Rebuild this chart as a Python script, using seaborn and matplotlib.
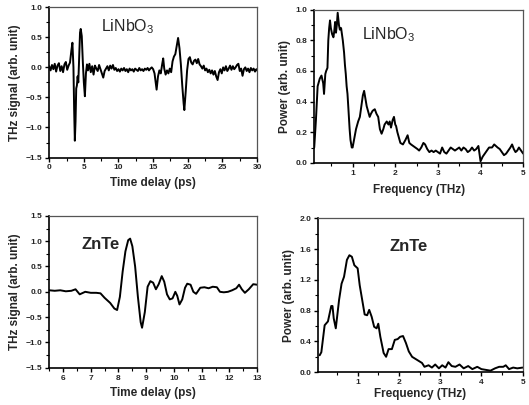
import numpy as np
import pandas as pd
import seaborn as sns
import matplotlib
matplotlib.use("Agg")
import matplotlib.pyplot as plt
from matplotlib.ticker import MultipleLocator

# ---------------- data ----------------
# LiNbO3 time-domain THz signal
lin_t = [0.0, 0.2, 0.4, 0.6, 0.8, 1.0, 1.2, 1.4, 1.6, 1.8, 2.0, 2.2, 2.4, 2.6, 2.8, 3.0,
         3.2, 3.35, 3.5, 3.6, 3.7, 3.8, 3.9, 4.0, 4.1, 4.2, 4.3, 4.45, 4.55, 4.7, 4.85,
         5.0, 5.15, 5.3, 5.45, 5.6, 5.8, 6.0, 6.2, 6.4, 6.6, 6.8, 7.0, 7.2, 7.4, 7.6, 7.8,
         8.0, 8.2, 8.4, 8.6, 8.8, 9.0, 9.2, 9.4, 9.6, 9.8, 10.0, 10.2, 10.4, 10.6, 10.8,
         11.0, 11.2, 11.4, 11.6, 11.8, 12.0, 12.2, 12.4, 12.6, 12.8, 13.0, 13.2, 13.4,
         13.6, 13.8, 14.0, 14.2, 14.4, 14.6, 14.8, 15.0, 15.2, 15.5, 15.7, 15.9, 16.1,
         16.3, 16.45, 16.6, 16.8, 17.0, 17.2, 17.4, 17.6, 17.8, 18.0, 18.2, 18.4, 18.6,
         18.8, 19.0, 19.2, 19.4, 19.5, 19.7, 19.9, 20.1, 20.3, 20.5, 20.7, 20.9, 21.1,
         21.3, 21.5, 21.7, 21.9, 22.1, 22.3, 22.5, 22.7, 22.9, 23.1, 23.3, 23.5, 23.7,
         23.9, 24.1, 24.3, 24.5, 24.7, 24.9, 25.1, 25.3, 25.5, 25.7, 25.9, 26.1, 26.3,
         26.5, 26.7, 26.9, 27.1, 27.3, 27.5, 27.7, 27.9, 28.1, 28.3, 28.5, 28.7, 28.9,
         29.1, 29.3, 29.5, 29.7, 29.9, 30.0]
lin_sig = [0.02, -0.05, 0.04, -0.03, 0.06, -0.07, 0.03, 0.07, -0.06, 0.02, -0.08, 0.05,
           0.09, -0.04, 0.03, 0.08, 0.28, 0.41, 0.0, -0.7, -1.22, -0.9, -0.35, -0.30,
           -0.15, -0.25, 0.1, 0.58, 0.64, 0.52, 0.1, -0.25, -0.48, -0.1, 0.05, -0.05,
           0.06, -0.08, 0.02, -0.12, 0.03, -0.02, -0.06, 0.04, -0.03, -0.10, -0.17,
           -0.06, -0.02, 0.02, -0.05, 0.03, -0.02, 0.04, -0.04, -0.01, -0.06, -0.03,
           -0.07, -0.02, -0.05, -0.01, -0.06, -0.03, -0.08, -0.02, -0.05, -0.03, -0.07,
           -0.02, -0.04, -0.06, -0.01, -0.05, -0.03, -0.06, -0.02, -0.04, -0.01, -0.05,
           -0.02, 0.0, -0.03, -0.10, -0.37, -0.15, -0.05, -0.10, 0.05, 0.15, -0.02,
           -0.12, -0.05, -0.10, -0.02, -0.08, 0.10, 0.18, 0.22, 0.35, 0.49, 0.32, 0.05,
           -0.30, -0.60, -0.71, -0.40, -0.05, 0.14, 0.17, 0.08, 0.05, 0.11, 0.13, 0.07,
           0.14, 0.05, 0.02, -0.02, 0.03, -0.05, -0.02, -0.08, -0.04, -0.10, -0.05,
           -0.12, -0.06, -0.15, -0.21, -0.08, -0.03, -0.10, 0.0, -0.05, 0.02, -0.06,
           -0.02, 0.03, -0.04, 0.02, -0.03, 0.0, 0.04, 0.06, -0.06, -0.02, -0.14, -0.03,
           0.0, -0.06, -0.02, -0.08, -0.01, -0.05, -0.02, -0.07, -0.03, -0.05]

# LiNbO3 power spectrum
lin_f = [0.10, 0.14, 0.18, 0.23, 0.27, 0.31, 0.33, 0.36, 0.38, 0.41, 0.43, 0.45, 0.47,
         0.49, 0.52, 0.55, 0.57, 0.59, 0.61, 0.63, 0.65, 0.68, 0.70, 0.73, 0.75, 0.77,
         0.80, 0.82, 0.84, 0.86, 0.88, 0.90, 0.93, 0.95, 0.98, 1.00, 1.02, 1.04, 1.08,
         1.13, 1.17, 1.21, 1.24, 1.27, 1.30, 1.33, 1.37, 1.40, 1.43, 1.47, 1.52, 1.56,
         1.60, 1.64, 1.68, 1.72, 1.75, 1.80, 1.84, 1.87, 1.90, 1.94, 1.97, 2.00, 2.02,
         2.05, 2.08, 2.12, 2.18, 2.24, 2.29, 2.33, 2.37, 2.42, 2.47, 2.52, 2.56, 2.61,
         2.66, 2.70, 2.75, 2.80, 2.85, 2.90, 2.95, 3.00, 3.05, 3.10, 3.15, 3.20, 3.25,
         3.30, 3.35, 3.40, 3.45, 3.50, 3.55, 3.60, 3.65, 3.70, 3.75, 3.80, 3.85, 3.90,
         3.95, 4.00, 4.05, 4.10, 4.15, 4.20, 4.27, 4.32, 4.36, 4.40, 4.45, 4.50, 4.55,
         4.60, 4.65, 4.70, 4.74, 4.78, 4.82, 4.86, 4.90, 4.95, 5.00]
lin_pow = [0.10, 0.28, 0.50, 0.55, 0.57, 0.52, 0.45, 0.58, 0.60, 0.62, 0.80, 0.88, 0.93,
           0.88, 0.84, 0.82, 0.86, 0.92, 0.85, 0.90, 0.98, 0.90, 0.87, 0.88, 0.84, 0.80,
           0.72, 0.64, 0.58, 0.50, 0.45, 0.36, 0.22, 0.15, 0.10, 0.10, 0.13, 0.16, 0.22,
           0.27, 0.30, 0.38, 0.44, 0.47, 0.42, 0.37, 0.33, 0.30, 0.32, 0.34, 0.35, 0.32,
           0.30, 0.22, 0.19, 0.22, 0.25, 0.27, 0.25, 0.27, 0.23, 0.28, 0.30, 0.25, 0.24,
           0.20, 0.17, 0.13, 0.12, 0.15, 0.18, 0.13, 0.12, 0.11, 0.10, 0.09, 0.08, 0.10,
           0.13, 0.12, 0.09, 0.07, 0.08, 0.07, 0.08, 0.07, 0.06, 0.10, 0.07, 0.06, 0.08,
           0.10, 0.09, 0.08, 0.09, 0.10, 0.08, 0.10, 0.09, 0.07, 0.08, 0.10, 0.08, 0.09,
           0.11, 0.01, 0.04, 0.06, 0.08, 0.10, 0.10, 0.12, 0.11, 0.10, 0.09, 0.07, 0.05,
           0.06, 0.08, 0.10, 0.12, 0.09, 0.07, 0.08, 0.10, 0.08, 0.06]

# ZnTe time-domain THz signal
znte_t = [5.5, 5.7, 5.9, 6.1, 6.3, 6.45, 6.6, 6.8, 7.0, 7.2, 7.35, 7.5, 7.7, 7.85, 7.95,
          8.05, 8.15, 8.25, 8.35, 8.42, 8.5, 8.6, 8.7, 8.8, 8.85, 8.95, 9.05, 9.15, 9.25,
          9.35, 9.45, 9.56, 9.65, 9.75, 9.85, 9.95, 10.05, 10.12, 10.2, 10.3, 10.4,
          10.48, 10.6, 10.7, 10.8, 10.95, 11.1, 11.25, 11.4, 11.55, 11.66, 11.8, 11.95,
          12.1, 12.25, 12.35, 12.45, 12.56, 12.7, 12.86, 13.0]
znte_sig = [0.03, 0.02, 0.03, 0.01, 0.02, 0.05, -0.05, 0.0, -0.02, -0.02, -0.03, -0.12,
            -0.22, -0.33, -0.36, -0.10, 0.40, 0.80, 1.02, 1.05, 0.90, 0.50, -0.10, -0.60,
            -0.71, -0.40, 0.10, 0.21, 0.18, 0.05, 0.15, 0.31, 0.20, -0.05, -0.15, -0.13,
            0.0, -0.08, -0.25, -0.15, 0.08, 0.16, 0.14, 0.0, -0.04, 0.08, 0.09, 0.07,
            0.10, 0.09, 0.0, -0.01, 0.0, 0.03, 0.07, 0.14, 0.05, -0.02, 0.05, 0.15, 0.14]

# ZnTe power spectrum
znte_f = [0.08, 0.12, 0.20, 0.28, 0.36, 0.39, 0.42, 0.47, 0.55, 0.61, 0.67, 0.74, 0.80,
          0.86, 0.92, 1.00, 1.05, 1.11, 1.17, 1.23, 1.28, 1.34, 1.40, 1.46, 1.50, 1.55,
          1.63, 1.69, 1.75, 1.83, 1.90, 1.97, 2.03, 2.10, 2.17, 2.24, 2.32, 2.41, 2.50,
          2.56, 2.62, 2.72, 2.80, 2.88, 2.97, 3.05, 3.13, 3.20, 3.28, 3.37, 3.47, 3.57,
          3.68, 3.78, 3.90, 4.00, 4.11, 4.22, 4.33, 4.43, 4.53, 4.59, 4.67, 4.77, 4.87,
          5.00]
znte_pow = [0.22, 0.26, 0.61, 0.66, 0.86, 0.86, 0.70, 0.57, 0.94, 1.15, 1.24, 1.46, 1.52,
            1.50, 1.39, 1.35, 1.13, 0.94, 0.75, 0.74, 0.81, 0.72, 0.59, 0.57, 0.63, 0.46,
            0.25, 0.20, 0.30, 0.30, 0.42, 0.43, 0.46, 0.47, 0.38, 0.27, 0.20, 0.17, 0.14,
            0.12, 0.07, 0.09, 0.06, 0.10, 0.05, 0.09, 0.06, 0.13, 0.08, 0.07, 0.10, 0.05,
            0.08, 0.04, 0.07, 0.04, 0.03, 0.02, 0.05, 0.07, 0.07, 0.09, 0.04, 0.06, 0.05,
            0.06]

# ---------------- style ----------------
sns.set_style("ticks")
plt.rcParams["font.family"] = ["Liberation Sans", "DejaVu Sans"]
plt.rcParams["axes.linewidth"] = 1.0

fig = plt.figure(figsize=(5.29, 4.05), dpi=100)

panels = [
    dict(rect=[0.093, 0.611, 0.393, 0.371], x=lin_t, y=lin_sig,
         xlim=(0, 30), ylim=(-1.5, 1.0), xmaj=5, xmin=2.5, ymaj=0.5, ymin=0.25,
         xlabel="Time delay (ps)", ylabel="THz signal (arb. unit)", xpad=4,
         label=r"$\mathregular{LiNbO_3}$", lpos=(0.25, 0.84), lweight="normal", lsize=11.5),
    dict(rect=[0.594, 0.598, 0.395, 0.378], x=lin_f, y=lin_pow,
         xlim=(0.1, 5), ylim=(0, 1.0), xmaj=1, xmin=0.5, ymaj=0.2, ymin=0.1,
         xlabel="Frequency (THz)", ylabel="Power (arb. unit)", xpad=5,
         label=r"$\mathregular{LiNbO_3}$", lpos=(0.23, 0.81), lweight="normal", lsize=11.5),
    dict(rect=[0.093, 0.092, 0.393, 0.375], x=znte_t, y=znte_sig,
         xlim=(5.5, 13), ylim=(-1.5, 1.5), xmaj=1, xmin=0.5, ymaj=0.5, ymin=0.25,
         xlabel="Time delay (ps)", ylabel="THz signal (arb. unit)", xpad=4,
         label="ZnTe", lpos=(0.156, 0.78), lweight="bold", lsize=12),
    dict(rect=[0.602, 0.081, 0.386, 0.380], x=znte_f, y=znte_pow,
         xlim=(0.05, 5), ylim=(0, 2.0), xmaj=1, xmin=0.5, ymaj=0.4, ymin=0.2,
         xlabel="Frequency (THz)", ylabel="Power (arb. unit)", xpad=1,
         label="ZnTe", lpos=(0.35, 0.79), lweight="bold", lsize=12),
]

for p in panels:
    ax = fig.add_axes(p["rect"])
    df = pd.DataFrame({"x": p["x"], "y": p["y"]})
    sns.lineplot(data=df, x="x", y="y", ax=ax, color="black", linewidth=1.4,
                 sort=False, estimator=None)
    ax.set_xlim(*p["xlim"])
    ax.set_ylim(*p["ylim"])
    ax.xaxis.set_major_locator(MultipleLocator(p["xmaj"]))
    ax.xaxis.set_minor_locator(MultipleLocator(p["xmin"]))
    ax.yaxis.set_major_locator(MultipleLocator(p["ymaj"]))
    ax.yaxis.set_minor_locator(MultipleLocator(p["ymin"]))
    ax.tick_params(which="major", direction="out", length=3, width=1, labelsize=6,
                   pad=2, color="black")
    ax.tick_params(which="minor", direction="out", length=2, width=0.8, color="black")
    for lab in ax.get_xticklabels() + ax.get_yticklabels():
        lab.set_fontweight("bold")
    ax.set_xlabel(p["xlabel"], fontsize=8.5, fontweight="bold", labelpad=p["xpad"])
    ax.set_ylabel(p["ylabel"], fontsize=8.5, fontweight="bold", labelpad=3)
    for side in ["left", "bottom"]:
        ax.spines[side].set_color("black")
        ax.spines[side].set_linewidth(1.2)
    for side in ["top", "right"]:
        ax.spines[side].set_color("#555555")
        ax.spines[side].set_linewidth(0.9)
    ax.text(p["lpos"][0], p["lpos"][1], p["label"], transform=ax.transAxes,
            fontsize=p["lsize"], fontweight=p["lweight"], ha="left", va="baseline")

fig.savefig("out.png", dpi=100)
